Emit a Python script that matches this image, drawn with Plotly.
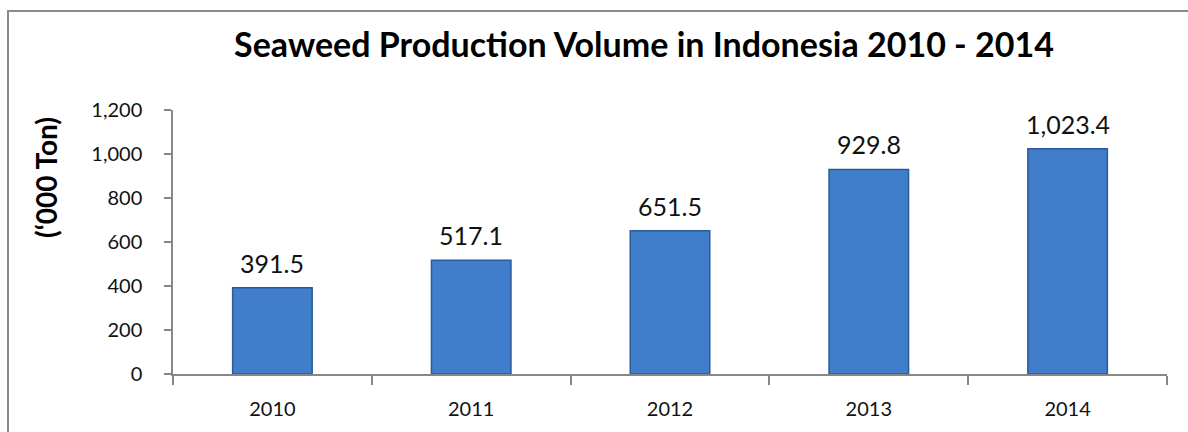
import plotly.graph_objects as go

years = ["2010", "2011", "2012", "2013", "2014"]
volume = [391.5, 517.1, 651.5, 929.8, 1023.4]  # thousand tons
y_ticks = [0, 200, 400, 600, 800, 1000, 1200]
y_tick_labels = ["0", "200", "400", "600", "800", "1,000", "1,200"]

W, H = 1188, 432
L, R, T, B = 173, 21, 110, 58
plot_w = W - L - R
plot_h = H - T - B

FONT = "Lato"

fig = go.Figure(
    go.Bar(
        x=years,
        y=volume,
        width=0.4,
        marker=dict(color="#407dca", line=dict(color="#2d5a98", width=1.5)),
    )
)

# value labels above each bar (category axis positions by index)
for i, v in enumerate(volume):
    fig.add_annotation(
        x=i, y=v, text=f"{v:,.1f}", showarrow=False,
        yanchor="bottom", yshift=8,
        font=dict(family=FONT, size=25, color="#111111"),
    )

# vertical axis title
fig.add_annotation(
    xref="paper", yref="paper",
    x=(46 - L) / plot_w, y=(H - 178 - B) / plot_h,
    text="<b>(‘000 Ton)</b>", textangle=-90, showarrow=False,
    xanchor="center", yanchor="middle",
    font=dict(family=FONT, size=28, color="#000000"),
)

# chart frame (paper coordinates derived from pixel edges)
fx0 = (8 - L) / plot_w
fx1 = (W + 10 - L) / plot_w
fy1 = (H - 11 - B) / plot_h
fy0 = (-20 - B) / plot_h
fig.add_shape(type="rect", xref="paper", yref="paper",
              x0=fx0, x1=fx1, y0=fy0, y1=fy1,
              line=dict(color="#8a8a8a", width=2), fillcolor="rgba(0,0,0,0)", layer="below")

fig.update_layout(
    width=W, height=H,
    margin=dict(l=L, r=R, t=T, b=B, pad=0, autoexpand=False),
    paper_bgcolor="white",
    plot_bgcolor="white",
    showlegend=False,
    title=dict(
        text="<b>Seaweed Production Volume in Indonesia 2010 - 2014</b>",
        font=dict(family=FONT, size=34, color="#000000"),
        x=644 / W, xanchor="center",
        y=1 - 45 / H, yanchor="middle",
    ),
    xaxis=dict(
        type="category",
        range=[-0.5, len(years) - 0.5],
        showline=True, linecolor="#878787", linewidth=1.5,
        ticks="outside", tickson="boundaries", ticklen=9, tickcolor="#878787", tickwidth=1.5,
        tickfont=dict(family=FONT, size=20, color="#111111"),
        tickangle=0,
        showgrid=False,
        ticklabelstandoff=16,
    ),
    yaxis=dict(
        range=[0, 1200],
        tickvals=y_ticks, ticktext=y_tick_labels,
        showline=True, linecolor="#878787", linewidth=1.5,
        ticks="outside", ticklen=7, tickcolor="#878787", tickwidth=1.5,
        tickfont=dict(family=FONT, size=20, color="#111111"),
        showgrid=False, zeroline=False,
        ticklabelstandoff=18,
    ),
)

fig.write_html("out.html")
